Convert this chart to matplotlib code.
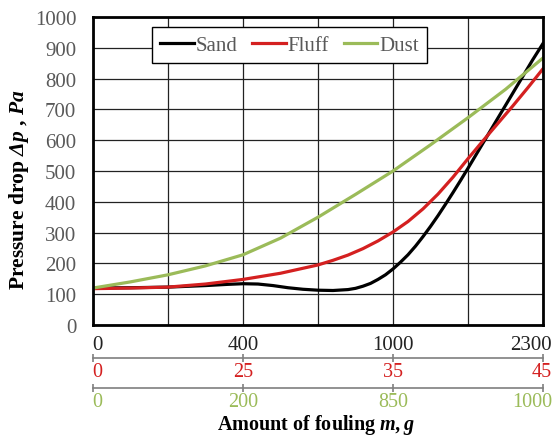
import numpy as np
import matplotlib.pyplot as plt
from matplotlib.transforms import ScaledTranslation

# data: x given as position along the axis (0..3 -> labelled ticks)
sand_x = [0, 0.25, 0.5, 0.75, 0.9, 1.0, 1.1, 1.2, 1.3, 1.4, 1.5, 1.6, 1.7, 1.75, 1.8, 1.85, 1.9, 1.95,
          2.0, 2.05, 2.1, 2.15, 2.2, 2.25, 2.3, 2.35, 2.4, 2.45, 2.5, 2.56, 2.62, 2.68, 2.75, 2.81, 2.87, 2.93, 3.0]
sand_y = [120, 121, 123, 128, 132, 134, 133, 128, 121, 116, 113, 112, 115, 119, 126, 135, 148, 163,
          182, 204, 228, 256, 287, 320, 355, 392, 430, 469, 509, 558, 607, 656, 713, 762, 811, 860, 914]
fluff_x = [0, 0.25, 0.5, 0.75, 1.0, 1.25, 1.5, 1.6, 1.7, 1.8, 1.9, 2.0, 2.1, 2.2, 2.3, 2.4, 2.5, 2.6, 2.7, 2.8, 2.9, 3.0]
fluff_y = [118, 120, 123, 133, 148, 168, 195, 210, 227, 248, 273, 302, 336, 377, 425, 480, 540, 598, 655, 712, 771, 832]
dust_x = [0, 0.25, 0.5, 0.75, 1.0, 1.25, 1.5, 1.75, 2.0, 2.25, 2.5, 2.75, 3.0]
dust_y = [120, 140, 163, 192, 228, 282, 350, 424, 500, 585, 673, 765, 867]

sand_ticks = ['0', '400', '1000', '2300']
fluff_ticks = ['0', '25', '35', '45']
dust_ticks = ['0', '200', '850', '1000']

c_sand = 'black'
c_fluff = '#d42020'
c_dust = '#9bbb59'

plt.rcParams['font.family'] = ['Liberation Serif', 'DejaVu Serif']
plt.rcParams['mathtext.fontset'] = 'custom'
plt.rcParams['mathtext.rm'] = 'Liberation Serif'
plt.rcParams['mathtext.it'] = 'Liberation Serif:italic'
plt.rcParams['mathtext.bf'] = 'Liberation Serif:bold'
plt.rcParams['mathtext.bfit'] = 'Liberation Serif:italic:bold'

fig = plt.figure(figsize=(5.57, 4.39), dpi=100)
ax = fig.add_axes([93 / 557, 1 - 326 / 439, 450 / 557, 308 / 439])

ax.plot(sand_x, sand_y, color=c_sand, lw=2.3, label='Sand')
ax.plot(fluff_x, fluff_y, color=c_fluff, lw=2.3, label='Fluff')
ax.plot(dust_x, dust_y, color=c_dust, lw=2.3, label='Dust')

ax.set_xlim(0, 3)
ax.set_ylim(0, 1000)
ax.set_yticks(np.arange(0, 1001, 100))
ax.set_xticks([0, 1, 2, 3], sand_ticks)
ax.set_xticks([0.5, 1.5, 2.5], minor=True)
ax.grid(True, which='both', color='#222222', lw=0.9)
ax.set_axisbelow(True)
ax.tick_params(axis='y', length=0, pad=12, labelsize=15, labelcolor='#595959')
ax.tick_params(axis='x', which='both', length=0, pad=7, labelsize=15, labelcolor='#222222')
for s in ax.spines.values():
    s.set_linewidth(2)
    s.set_color('black')

# extra x axes for fluff and dust
axes_x = [ax]
for off, labels, col in [(-33 / 308, fluff_ticks, c_fluff), (-63 / 308, dust_ticks, c_dust)]:
    sec = ax.secondary_xaxis(off)
    sec.set_xticks([0, 1, 2, 3], labels)
    sec.spines['bottom'].set_color('#7f7f7f')
    sec.spines['bottom'].set_linewidth(1.2)
    sec.tick_params(axis='x', direction='inout', length=6, color='#7f7f7f', width=1.2,
                    pad=0, labelsize=14.5, labelcolor=col)
    axes_x.append(sec)

# end labels sit inside the figure like in the original
for a in axes_x:
    ticks = a.xaxis.get_major_ticks()
    lab = ticks[-1].label1
    lab.set_horizontalalignment('right')
    lab.set_transform(lab.get_transform() + ScaledTranslation(9 / 100, 0, fig.dpi_scale_trans))
    lab0 = ticks[0].label1
    lab0.set_transform(lab0.get_transform() + ScaledTranslation(4 / 100, 0, fig.dpi_scale_trans))

leg = ax.legend(loc='upper left', bbox_to_anchor=(59 / 450, 298 / 308), borderaxespad=0,
                ncol=3, fontsize=15, handlelength=1.6, handletextpad=0.1, columnspacing=0.7,
                frameon=True, fancybox=False, borderpad=0.4, labelcolor='#595959')
leg.get_frame().set_edgecolor('black')
leg.get_frame().set_linewidth(1.0)
leg.get_frame().set_alpha(1)

fig.text(19 / 557, 1 - 190 / 439, r'Pressure drop $\mathbfit{\Delta p}$ , $\mathbfit{Pa}$', rotation=90,
         ha='center', va='center', fontsize=15.5, fontweight='bold')
fig.text(316 / 557, 2 / 439, r'Amount of fouling $\mathbfit{m, g}$',
         ha='center', va='bottom', fontsize=14.5, fontweight='bold')

plt.savefig('out.png', dpi=100)
